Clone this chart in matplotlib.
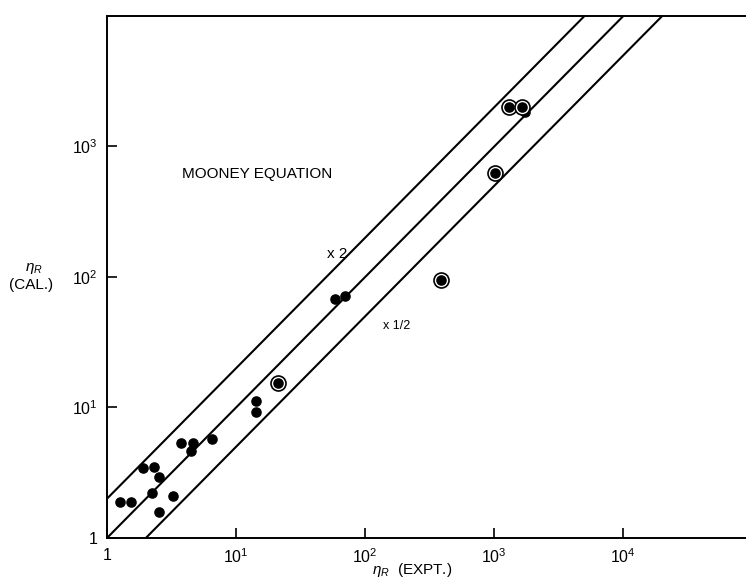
import matplotlib

matplotlib.use("Agg")
import matplotlib.pyplot as plt
import numpy as np

plt.rcParams["font.family"] = ["Liberation Sans", "DejaVu Sans"]
plt.rcParams["mathtext.fontset"] = "custom"
plt.rcParams["mathtext.rm"] = "Liberation Sans"
plt.rcParams["mathtext.it"] = "Liberation Sans:italic"

# plain points (experimental vs calculated relative viscosity)
plain_x = [1.26, 1.53, 1.91, 2.30, 2.53, 2.25, 2.51, 3.25, 3.75, 4.62, 4.48,
           6.55, 14.3, 14.3, 58.5, 70.0, 1740]
plain_y = [1.90, 1.90, 3.44, 3.47, 2.91, 2.21, 1.57, 2.10, 5.32, 5.38, 4.67,
           5.78, 11.2, 9.2, 67.8, 71.0, 1830]
# circled points
ring_x = [21.0, 390, 1012, 1307, 1650]
ring_y = [15.5, 95, 631, 1990, 1990]

# reference lines y = k * x
line_factors = [2.0, 1.0, 0.5]
line_x = [1.0, 1e5]

x_ticks = [1, 10, 100, 1000, 10000]
x_tick_labels = ["1", "$10^1$", "$10^2$", "$10^3$", "$10^4$"]
y_ticks = [1, 10, 100, 1000]
y_tick_labels = ["1", "$10^1$", "$10^2$", "$10^3$"]

fig = plt.figure(figsize=(7.46, 5.81), dpi=100)
ax = fig.add_axes([0.1434, 0.074, 0.8566, 0.8985])

for k in line_factors:
    ax.plot(line_x, [k * v for v in line_x], color="black", linewidth=1.5,
            solid_capstyle="butt")

ax.plot(plain_x, plain_y, "o", color="black", markersize=6.6, zorder=3)
ax.plot(ring_x, ring_y, "o", markerfacecolor="white", markeredgecolor="black",
        markeredgewidth=1.2, markersize=10.8, zorder=4)
ax.plot(ring_x, ring_y, "o", color="black", markersize=6.6, zorder=5)

ax.set_xscale("log")
ax.set_yscale("log")
ax.set_xlim(1, 10 ** 4.95)
ax.set_ylim(1, 1e4)
ax.minorticks_off()
ax.set_xticks(x_ticks)
ax.set_xticklabels(x_tick_labels)
ax.set_yticks(y_ticks)
ax.set_yticklabels(y_tick_labels)
ax.tick_params(direction="in", length=7, width=1.2, labelsize=11.5, pad=7)

ax.spines["right"].set_visible(False)
for side in ("left", "top", "bottom"):
    ax.spines[side].set_linewidth(1.4)

ax.text(0.117, 0.69, "MOONEY EQUATION", transform=ax.transAxes, fontsize=11)
ax.text(0.345, 0.537, "x 2", transform=ax.transAxes, fontsize=11)
ax.text(0.432, 0.4, "x 1/2", transform=ax.transAxes, fontsize=9)

fig.text(0.045, 0.534, r"$\eta_R$", fontsize=11, ha="center")
fig.text(0.042, 0.503, "(CAL.)", fontsize=11, ha="center")
fig.text(0.552, 0.003, r"$\eta_R$  (EXPT.)", fontsize=11, ha="center",
         va="bottom")

fig.savefig("out.png", dpi=100)
